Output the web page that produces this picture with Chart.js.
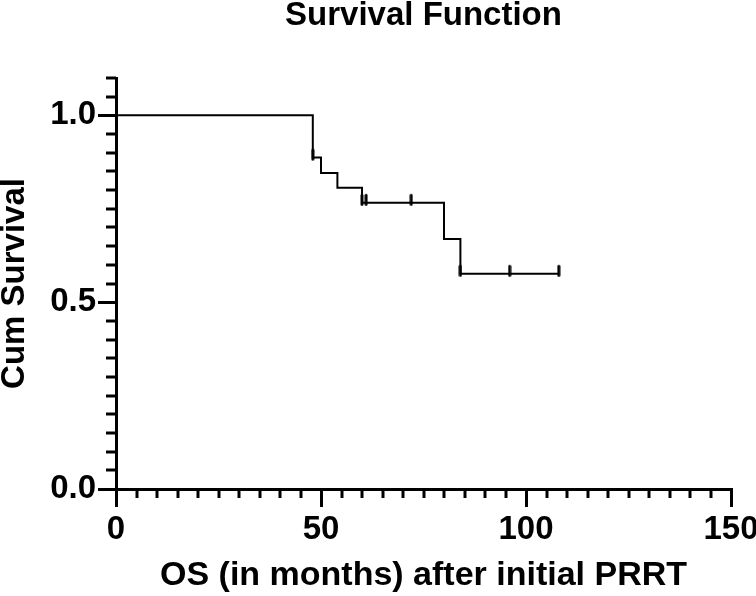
<!DOCTYPE html>
<html>
<head>
<meta charset="utf-8">
<script src="https://cdn.jsdelivr.net/npm/chart.js@4/dist/chart.umd.min.js"></script>
<style>
html,body{margin:0;padding:0;background:#fff;overflow:hidden;}
#wrap{width:756px;height:596px;}
</style>
</head>
<body>
<div id="wrap"><canvas id="c" width="756" height="596"></canvas></div>
<script>
// Kaplan-Meier step curve (event times, survival after each step)
const times = [0, 48, 50, 54, 60, 80, 84, 108];
const survival = [1.0, 0.887, 0.846, 0.806, 0.766, 0.669, 0.576, 0.576];
// Censored observations
const censorTimes = [48, 60, 61, 72, 84, 96, 108];
const censorSurvival = [0.887, 0.766, 0.766, 0.766, 0.576, 0.576, 0.576];
// Axis labels / ticks
const xTicks = [0, 50, 100, 150];
const yTicks = [0, 0.5, 1.0];
const titleText = 'Survival Function';
const xTitle = 'OS (in months) after initial PRRT';
const yTitle = 'Cum Survival';

const FONT = "'Liberation Sans', Arial, Helvetica, sans-serif";

// censor tick glyph: short vertical bar sitting mostly above the curve
const censorMark = (() => {
  const cv = document.createElement('canvas');
  cv.width = 4; cv.height = 24;
  const g = cv.getContext('2d');
  g.fillStyle = '#000';
  g.beginPath();
  if (g.roundRect) g.roundRect(0.5, 3, 3, 12, 1.5); else g.rect(0.5, 3, 3, 12);
  g.fill();
  return cv;
})();

const minorTicks = {
  id: 'minorTicks',
  afterDraw(chart) {
    const ctx = chart.ctx;
    const xs = chart.scales.x, ys = chart.scales.y;
    const area = chart.chartArea;
    ctx.save();
    ctx.strokeStyle = '#000';
    ctx.lineWidth = 3;
    ctx.lineCap = 'butt';
    for (let v = 0; v <= 150; v += 5) {
      if (v % 50 === 0) continue;
      const px = Math.round(xs.getPixelForValue(v));
      ctx.beginPath();
      ctx.moveTo(px, area.bottom);
      ctx.lineTo(px, area.bottom + 9);
      ctx.stroke();
    }
    for (let i = 0; i <= 22; i++) {
      const v = i * 0.05;
      if (i % 10 === 0) continue;
      const py = Math.round(ys.getPixelForValue(v));
      ctx.beginPath();
      ctx.moveTo(area.left - 10, py);
      ctx.lineTo(area.left, py);
      ctx.stroke();
    }
    ctx.restore();
  }
};

new Chart(document.getElementById('c'), {
  type: 'scatter',
  data: {
    datasets: [
      {
        data: times.map((t, i) => ({x: t, y: survival[i]})),
        showLine: true,
        stepped: true,
        borderColor: '#000',
        borderWidth: 2,
        pointRadius: 0,
        fill: false
      },
      {
        data: censorTimes.map((t, i) => ({x: t, y: censorSurvival[i]})),
        showLine: false,
        pointStyle: censorMark,
        pointRadius: 6,
        borderColor: '#000',
        backgroundColor: '#000'
      }
    ]
  },
  options: {
    responsive: false,
    animation: false,
    events: [],
    layout: {padding: {left: 0, right: 25, top: 0, bottom: 0}},
    plugins: {legend: {display: false}, tooltip: {enabled: false}, title: {display: false}},
    scales: {
      xTop: {
        type: 'linear', position: 'top', min: 0, max: 150,
        grid: {display: false}, border: {display: false}, ticks: {display: false},
        title: {display: true, text: titleText, color: '#000',
          font: {family: FONT, size: 33, weight: 'bold', lineHeight: 0.9}, padding: {top: 1, bottom: 0}},
        afterFit(s) { s.height = 78; s.paddingLeft = 0; s.paddingRight = 0; }
      },
      x: {
        type: 'linear', position: 'bottom', min: 0, max: 150,
        afterBuildTicks(s) { s.ticks = xTicks.map(v => ({value: v})); },
        ticks: {color: '#000', padding: 3, font: {family: FONT, size: 33, weight: 'bold'},
          callback: v => String(v), maxRotation: 0, autoSkip: false},
        grid: {drawOnChartArea: false, drawTicks: true, tickLength: 18, lineWidth: 3, color: '#000'},
        border: {display: true, width: 3, color: '#000'},
        title: {display: true, text: xTitle, color: '#000',
          font: {family: FONT, size: 34, weight: 'bold', lineHeight: 1.2}, padding: {top: 0, bottom: 0}},
        afterFit(s) { s.height = 107; s.paddingLeft = 0; s.paddingRight = 0; }
      },
      y: {
        type: 'linear', position: 'left', min: 0, max: 1.1,
        afterBuildTicks(s) { s.ticks = yTicks.map(v => ({value: v})); },
        ticks: {color: '#000', padding: 2, font: {family: FONT, size: 33, weight: 'bold'},
          callback: v => Number(v).toFixed(1), autoSkip: false},
        grid: {drawOnChartArea: false, drawTicks: true, tickLength: 18, lineWidth: 3, color: '#000'},
        border: {display: true, width: 3, color: '#000'},
        title: {display: true, text: yTitle, color: '#000',
          font: {family: FONT, size: 33, weight: 'bold', lineHeight: 0.9}, padding: {top: 0, bottom: 0}},
        afterFit(s) { s.width = 116; s.paddingTop = 0; s.paddingBottom = 0; }
      }
    }
  },
  plugins: [minorTicks]
});
</script>
</body>
</html>
